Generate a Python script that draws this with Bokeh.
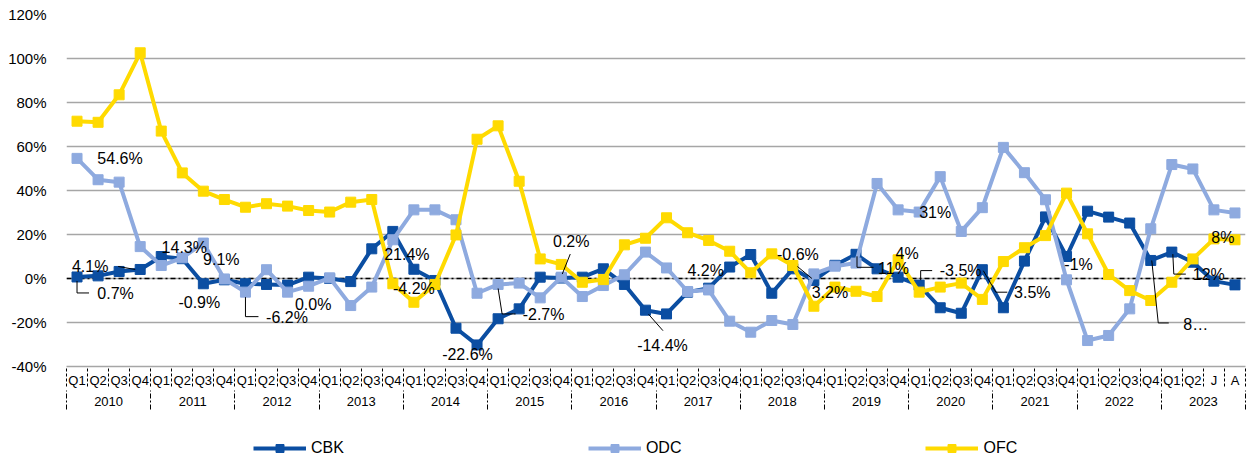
from bokeh.plotting import figure
from bokeh.layouts import column
from bokeh.models import (Range1d, FixedTicker, LinearAxis, CustomJSTickFormatter,
                          Span, Legend, LegendItem)
from bokeh.core.properties import value
from bokeh.embed import file_html
from bokeh.resources import INLINE

# ---------------- data ----------------
years = ["2010", "2011", "2012", "2013", "2014", "2015", "2016", "2017",
         "2018", "2019", "2020", "2021", "2022", "2023"]
periods_per_year = [4, 4, 4, 4, 4, 4, 4, 4, 4, 4, 4, 4, 4, 4]
periods = (["Q1", "Q2", "Q3", "Q4"] * 13) + ["Q1", "Q2", "J", "A"]

cbk = [0.7, 1.2, 3.2, 4.1, 10.0, 9.0, -2.4, -0.6, -2.4, -2.7, -3.0, 0.6,
       0.0, -1.4, 13.5, 21.4, 4.2, -0.9, -22.6, -30.2, -18.3, -13.8, 0.6, 0.2,
       0.6, 4.4, -2.7, -14.4, -16.1, -6.2, -4.4, 5.2, 10.9, -6.7, 4.4, -0.9,
       6.0, 11.0, 4.4, 0.6, -3.0, -13.3, -15.8, 4.0, -13.3, 7.9, 28.0, 10.0,
       30.6, 27.9, 25.2, 8.2, 12.0, 7.4, -1.2, -2.9]
odc = [54.6, 44.9, 43.8, 14.5, 5.9, 9.4, 16.1, -0.2, -6.2, 4.0, -6.2, -3.5,
       0.3, -12.3, -3.9, 17.6, 31.2, 31.2, 26.7, -6.7, -2.7, -2.1, -8.8, 0.6,
       -8.2, -3.2, 1.7, 12.0, 4.8, -5.9, -5.2, -19.4, -24.4, -19.1, -20.9, 2.1,
       5.6, 7.0, 43.2, 31.2, 30.2, 46.3, 21.4, 32.2, 59.6, 48.1, 35.8, -0.6,
       -28.2, -25.9, -13.8, 22.6, 51.8, 49.8, 31.2, 29.8]
ofc = [71.5, 71.0, 83.5, 102.6, 67.0, 48.0, 39.7, 35.9, 32.4, 34.0, 32.9, 30.9,
       30.2, 34.7, 35.9, -2.4, -10.8, -2.7, 19.8, 63.3, 69.4, 44.2, 8.9, 6.4,
       -1.7, -0.5, 15.3, 18.3, 27.6, 20.8, 17.3, 12.4, 2.6, 11.2, 5.9, -12.6,
       -3.9, -5.8, -8.2, 8.5, -6.2, -3.9, -2.1, -9.5, 7.7, 14.0, 19.5, 38.8,
       20.3, 1.8, -5.5, -10.0, -1.7, 8.9, 18.0, 17.6]

series_names = ["CBK", "ODC", "OFC"]
series_colors = ["#0B4EA2", "#8EAADF", "#FFDA00"]
y_ticks = [-40, -20, 0, 20, 40, 60, 80, 100, 120]

# data labels: (series, point index, text, dx px, dy px  -> text centre offset)
labels = [
    ("ODC", 0, "54.6%", 43, 0),
    ("CBK", 3, "4.1%", -50, -3),
    ("CBK", 0, "0.7%", 38.5, 16.5),
    ("ODC", 5, "14.3%", 2, -10),
    ("ODC", 6, "9.1%", 18, 16),
    ("CBK", 6, "-0.9%", -4, 19),
    ("ODC", 8, "-6.2%", 41.5, 25.5),
    ("CBK", 12, "0.0%", -16.5, 26),
    ("CBK", 15, "21.4%", 14, 23),
    ("OFC", 16, "-4.2%", 0, -14),
    ("CBK", 18, "-22.6%", 11.5, 26),
    ("ODC", 20, "-2.7%", 45.5, 30),
    ("CBK", 23, "0.2%", 10, -36.5),
    ("CBK", 27, "-14.4%", 17, 35),
    ("CBK", 30, "4.2%", -3, -18),
    ("CBK", 35, "-0.6%", -16, -26),
    ("OFC", 35, "3.2%", 16, -14),
    ("OFC", 39, "4%", 9, -6),
    ("CBK", 37, "11%", 37.5, 14),
    ("ODC", 40, "31%", 16, 0),
    ("CBK", 40, "-3.5%", 41.5, -14.5),
    ("CBK", 43, "3.5%", 50, 23),
    ("CBK", 47, "-1%", 12, 8),
    ("CBK", 51, "8\u2026", 45, 64),
    ("CBK", 52, "12%", 37, 22),
    ("OFC", 54, "8%", 9, -1),
]
# leader lines: (series, point index, polyline offsets in px)
leaders = [
    ("CBK", 3, [(-22, -3), (-5, 0)]),
    ("CBK", 0, [(0, 4), (0, 16), (12, 16)]),
    ("ODC", 8, [(0, 5), (0, 24.5), (13, 24.5)]),
    ("ODC", 20, [(0, 4), (4, 29.5), (17.5, 29.5)]),
    ("CBK", 23, [(1, -4), (9, -24)]),
    ("CBK", 27, [(3, 4), (17.5, 20.5)]),
    ("CBK", 35, [(-16.5, -14), (-2, -2)]),
    ("CBK", 37, [(1, 2), (1, 13), (17.5, 13)]),
    ("CBK", 40, [(1.5, -5), (1.5, -14.5), (13, -14.5)]),
    ("CBK", 43, [(1, 1), (13.5, 22.5), (25, 22.5)]),
    ("CBK", 51, [(1, 0), (7.5, 62.5), (18, 62.5)]),
    ("CBK", 52, [(1, 2), (2, 22), (14, 22)]),
]

# ---------------- main figure ----------------
FONT = "Liberation Sans"
W, H_MAIN, H_LEG = 1254, 412, 46
BL, BR, BT, BB = 66, 9, 14, 46
FW, FH = W - BL - BR, H_MAIN - BT - BB
n = len(periods)
xs = [i + 0.5 for i in range(n)]
ymin, ymax = y_ticks[0], y_ticks[-1]
PXX = FW / n
PXY = FH / (ymax - ymin)

p = figure(width=W, height=H_MAIN,
           x_range=Range1d(0, n), y_range=Range1d(ymin, ymax),
           x_axis_location=None, output_backend="svg", toolbar_location=None,
           min_border_left=BL, min_border_right=BR, min_border_top=BT,
           min_border_bottom=BB)
p.outline_line_color = None
p.background_fill_color = "white"
p.border_fill_color = "white"

yt = FixedTicker(ticks=y_ticks)
p.yaxis.ticker = yt
p.ygrid.ticker = yt
p.yaxis.formatter = CustomJSTickFormatter(code="return tick + '%';")
p.yaxis.axis_line_color = None
p.yaxis.major_tick_line_color = None
p.yaxis.minor_tick_line_color = None
p.yaxis.major_label_text_font = FONT
p.yaxis.major_label_text_font_size = "15px"
p.yaxis.major_label_text_color = "#000000"
p.yaxis.major_label_standoff = 14
p.ygrid.grid_line_color = "#A6A6A6"
p.ygrid.grid_line_width = 1.3
p.xgrid.visible = False

# period axis (Q1..) and year axis
bounds = [0]
for c in periods_per_year:
    bounds.append(bounds[-1] + c)
year_centers = [(bounds[k] + bounds[k + 1]) / 2 for k in range(len(years))]

axA = LinearAxis(ticker=FixedTicker(ticks=xs, minor_ticks=list(range(n + 1))),
                 formatter=CustomJSTickFormatter(args=dict(labels=periods),
                                                 code="return labels[Math.floor(tick)];"))
axA.axis_line_color = "#A6A6A6"
axA.axis_line_width = 1.3
axA.major_tick_line_color = None
axA.major_tick_out = 0
axA.major_tick_in = 0
axA.minor_tick_line_color = "#000000"
axA.minor_tick_out = 20
axA.minor_tick_in = 0
axA.minor_tick_line_dash = "3 2"
axA.minor_tick_line_width = 1
axA.major_label_text_font = FONT
axA.major_label_text_font_size = "13px"
axA.major_label_text_color = "#000000"
axA.major_label_standoff = -14
p.add_layout(axA, "below")

axB = LinearAxis(ticker=FixedTicker(ticks=year_centers, minor_ticks=bounds),
                 formatter=CustomJSTickFormatter(args=dict(labels=years),
                                                 code="return labels[Math.floor(tick / 4)];"))
axB.axis_line_color = None
axB.major_tick_line_color = None
axB.major_tick_out = 0
axB.major_tick_in = 0
axB.minor_tick_line_color = "#000000"
axB.minor_tick_out = 19
axB.minor_tick_in = 0
axB.minor_tick_line_dash = "5 2 2 2"
axB.minor_tick_line_width = 1
axB.major_label_text_font = FONT
axB.major_label_text_font_size = "13px"
axB.major_label_text_color = "#000000"
axB.major_label_standoff = -13
p.add_layout(axB, "below")

# zero line
p.add_layout(Span(location=0, dimension="width", line_color="#000000",
                  line_width=1.5, line_dash="5 3 2 3", level="underlay"))

vals = dict(zip(series_names, [cbk, odc, ofc]))
for name, col in zip(series_names, series_colors):
    p.line(xs, vals[name], line_color=col, line_width=4, line_join="round")
    p.scatter(xs, vals[name], marker="square", size=10, fill_color=col,
              line_color=col)

# leaders
lxs, lys = [], []
for s, i, pts in leaders:
    lxs.append([xs[i] + dx / PXX for dx, dy in pts])
    lys.append([vals[s][i] - dy / PXY for dx, dy in pts])
p.multi_line(lxs, lys, line_color="#000000", line_width=1)

# data labels
tx = [xs[i] + dx / PXX for s, i, t, dx, dy in labels]
ty = [vals[s][i] - dy / PXY for s, i, t, dx, dy in labels]
tt = [t for s, i, t, dx, dy in labels]
p.text(tx, ty, text=tt, text_font=value(FONT), text_font_size="16px",
       text_align="center", text_baseline="middle", text_color="#000000")

# ---------------- legend strip ----------------
pl = figure(width=W, height=H_LEG, x_range=Range1d(0, W), y_range=Range1d(0, H_LEG),
            x_axis_location=None, y_axis_location=None,
            output_backend="svg", toolbar_location=None,
            min_border_left=0, min_border_right=0, min_border_top=0,
            min_border_bottom=0)
pl.outline_line_color = None
pl.xgrid.visible = False
pl.ygrid.visible = False
nan = float("nan")
items = []
for name, col in zip(series_names, series_colors):
    # swatch-only renderers (a single NaN row: nothing is drawn in the strip)
    rl = pl.line([nan], [nan], line_color=col, line_width=4)
    rs = pl.scatter([nan], [nan], marker="square", size=10, fill_color=col,
                    line_color=col)
    items.append(LegendItem(label=name, renderers=[rl, rs]))

legend = Legend(items=items, orientation="horizontal", location=(187, 0),
                spacing=244, glyph_width=53, glyph_height=20, label_standoff=5,
                padding=0, margin=0, border_line_color=None,
                background_fill_alpha=0, label_text_font=FONT,
                label_text_font_size="16px", label_text_color="#000000",
                label_height=20)
pl.add_layout(legend)

layout = column(p, pl, spacing=0)
open("out.html", "w").write(file_html(layout, INLINE))
